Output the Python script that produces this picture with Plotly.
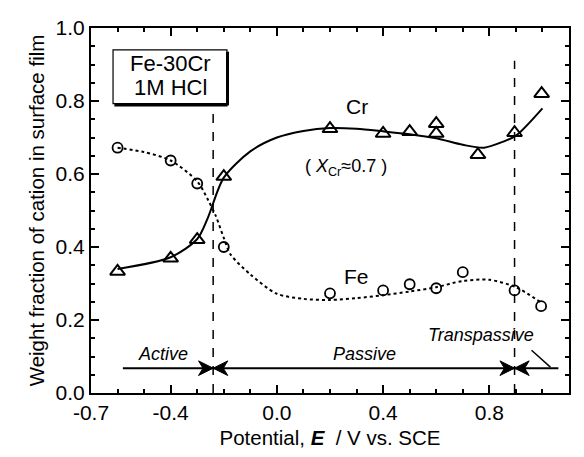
import numpy as np
import plotly.graph_objects as go

# Measured points
fe_x = [-0.60, -0.40, -0.30, -0.20, 0.20, 0.40, 0.50, 0.60, 0.70, 0.895, 0.995]
fe_y = [0.672, 0.637, 0.574, 0.40, 0.273, 0.281, 0.298, 0.287, 0.331, 0.281, 0.238]
cr_x = [-0.60, -0.40, -0.30, -0.20, 0.20, 0.40, 0.50, 0.60, 0.60, 0.757, 0.895, 0.997]
cr_y = [0.333, 0.369, 0.42, 0.593, 0.724, 0.711, 0.716, 0.738, 0.711, 0.653, 0.713, 0.82]

# Guide curves
cr_cx = [-0.60, -0.40, -0.30, -0.26, -0.20, -0.10, 0.00, 0.10, 0.20, 0.30, 0.40, 0.50, 0.60, 0.70, 0.78, 0.85, 0.90, 1.00]
cr_cy = [0.340, 0.372, 0.422, 0.480, 0.590, 0.662, 0.700, 0.718, 0.726, 0.724, 0.717, 0.709, 0.698, 0.680, 0.672, 0.688, 0.705, 0.780]
fe_cx = [-0.60, -0.50, -0.40, -0.30, -0.26, -0.23, -0.20, -0.175, -0.10, 0.00, 0.10, 0.20, 0.30, 0.40, 0.50, 0.60, 0.70, 0.80, 0.90, 1.00]
fe_cy = [0.672, 0.660, 0.637, 0.580, 0.530, 0.485, 0.425, 0.380, 0.325, 0.272, 0.258, 0.255, 0.260, 0.268, 0.278, 0.290, 0.307, 0.310, 0.290, 0.245]

x_ticks = [-0.7, -0.4, 0.0, 0.4, 0.8, 1.1]
x_labels = ["-0.7", "-0.4", "0.0", "0.4", "0.8", "-1.1"]
y_ticks = [0.0, 0.2, 0.4, 0.6, 0.8, 1.0]
y_labels = ["0.0", "0.2", "0.4", "0.6", "0.8", "1.0"]

boundaries = [-0.24, 0.895]

FONT = "Liberation Sans, Arial, sans-serif"

fig = go.Figure()
fig.add_trace(go.Scatter(x=cr_cx, y=cr_cy, mode="lines", line=dict(color="black", width=2, shape="spline", smoothing=0.8), hoverinfo="skip"))
fig.add_trace(go.Scatter(x=fe_cx, y=fe_cy, mode="lines", line=dict(color="black", width=2, shape="spline", smoothing=0.8, dash="dot"), hoverinfo="skip"))
fig.add_trace(go.Scatter(x=cr_x, y=cr_y, mode="markers",
                         marker=dict(symbol="triangle-up-open", size=13, color="black", line=dict(width=2))))
fig.add_trace(go.Scatter(x=fe_x, y=fe_y, mode="markers",
                         marker=dict(symbol="circle-open", size=10, color="black", line=dict(width=1.8))))

# vertical dashed boundaries
fig.add_shape(type="line", x0=boundaries[0], x1=boundaries[0], y0=0, y1=0.765, line=dict(color="black", width=1.5, dash="dash"))
fig.add_shape(type="line", x0=boundaries[1], x1=boundaries[1], y0=0, y1=0.91, line=dict(color="black", width=1.5, dash="dash"))

# region arrow line
ya = 0.068
fig.add_shape(type="line", x0=-0.58, x1=1.06, y0=ya, y1=ya, line=dict(color="black", width=2))
# arrowheads (pointing at each boundary from both sides)
L, H, N = 0.055, 0.02, 0.038
for b in boundaries:
    for s in (-1, 1):  # s=-1: arrow from left pointing right
        tip = b
        back = b + s * L
        notch = b + s * N
        path = f"M {tip} {ya} L {back} {ya + H} L {notch} {ya} L {back} {ya - H} Z"
        fig.add_shape(type="path", path=path, fillcolor="black", line=dict(color="black", width=1))
# leader line
fig.add_shape(type="line", x0=0.959, x1=1.03, y0=0.117, y1=0.071, line=dict(color="black", width=1.5))

# label box
fig.add_shape(type="rect", x0=-0.617, x1=-0.188, y0=0.793, y1=0.940, line=dict(color="black", width=1.2), fillcolor="white", layer="above")
fig.add_shape(type="line", x0=-0.186, x1=-0.186, y0=0.788, y1=0.935, line=dict(color="black", width=3))
fig.add_shape(type="line", x0=-0.612, x1=-0.186, y0=0.789, y1=0.789, line=dict(color="black", width=3))

def label(x, y, t, size=20, italic=False):
    if italic:
        t = "<i>" + t + "</i>"
    fig.add_annotation(x=x, y=y, xref="x", yref="y", text=t, showarrow=False,
                       font=dict(family=FONT, size=size, color="black"))

label(-0.40, 0.902, "Fe-30Cr", 22)
label(-0.40, 0.838, "1M HCl", 22)
label(0.30, 0.785, "Cr", 21)
label(0.30, 0.318, "Fe", 21)
label(0.26, 0.618, "( <i>X</i><sub>Cr</sub>≈0.7 )", 18)
label(-0.43, 0.106, "Active", 18, True)
label(0.33, 0.106, "Passive", 18, True)
label(0.77, 0.158, "Transpassive", 18, True)

axis_common = dict(showline=True, linecolor="black", linewidth=2, mirror="ticks", ticks="inside",
                   tickcolor="black", tickwidth=1.5, showgrid=False, zeroline=False,
                   tickfont=dict(family=FONT, size=21, color="black"))

fig.update_xaxes(range=[-0.7, 1.1], tickmode="array", tickvals=x_ticks, ticktext=x_labels, ticklen=8,
                 minor=dict(tickmode="array", tickvals=list(np.round(np.arange(-0.6, 1.1, 0.1), 2)), ticks="inside", ticklen=4, tickcolor="black", tickwidth=1.5),
                 title=dict(text="Potential, <b><i>E</i></b>  / V vs. SCE", font=dict(family=FONT, size=20.5, color="black"), standoff=7),
                 **axis_common)
fig.update_yaxes(range=[0, 1.0], tickmode="array", tickvals=y_ticks, ticktext=y_labels, ticklen=8,
                 minor=dict(tickmode="array", tickvals=list(np.round(np.arange(0.05, 1.0, 0.05), 2)), ticks="inside", ticklen=4, tickcolor="black", tickwidth=1.5),
                 title=dict(text="Weight fraction of cation in surface film", font=dict(family=FONT, size=20.5, color="black"), standoff=5),
                 **axis_common)

fig.update_layout(width=584, height=457, margin=dict(l=91, r=15, t=28, b=64),
                  paper_bgcolor="white", plot_bgcolor="white", showlegend=False)

fig.write_html("out.html")
